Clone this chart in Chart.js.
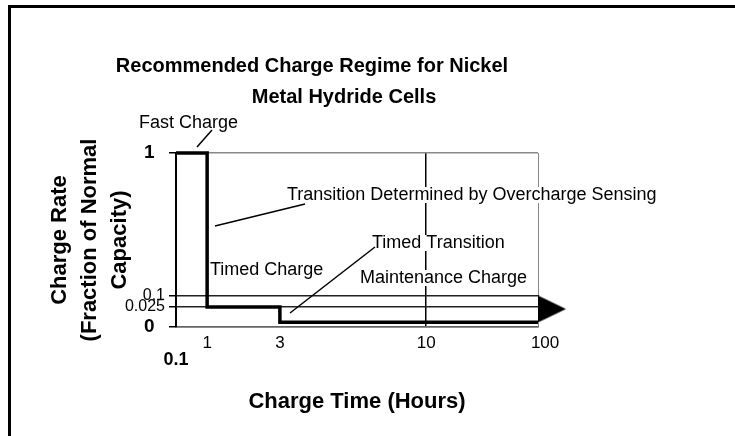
<!DOCTYPE html>
<html lang="en">
<head>
    <meta charset="UTF-8">
    <title>Recommended Charge Regime for Nickel Metal Hydride Cells</title>
    <script src="https://cdn.jsdelivr.net/npm/chart.js"></script>
    <style>
        body {
            margin: 0;
            background: #FFFFFF;
        }

        .chart-box {
            width: 735px;
            height: 436px;
        }
    </style>
</head>
<body>
    <div class="chart-box">
        <canvas id="regimeChart" width="735" height="436"></canvas>
    </div>

    <script>
        // Charge regime (hours, fraction of capacity), stepped
        const stepTimes = [0.1, 1, 3, 100];
        const stepRates = [1, 0.025, 0.006, 0.006];

        // Arrow head at the end of the maintenance charge
        const arrowTime = [100];
        const arrowRate = [0.0225];

        const xTickValues = [0.1, 1, 3, 10, 100];
        const xTickLabels = ['0.1', '1', '3', '10', '100'];
        const yTickValues = [0, 0.025, 0.1, 1];
        const yTickLabels = ['0', '0.025', '0.1', '1'];

        // The original axes are hand drawn, not log: where each tick sits along its axis (0..1)
        const axisSpots = {
            x: { values: xTickValues, spots: [0, 0.086, 0.287, 0.691, 1] },
            y: { values: yTickValues, spots: [0, 0.115, 0.178, 1] }
        };

        const FONT = "'Liberation Sans', Arial, sans-serif";

        class SchematicScale extends Chart.LinearScale {
            determineDataLimits() {
                const v = axisSpots[this.id].values;
                this.min = v[0];
                this.max = v[v.length - 1];
            }

            buildTicks() {
                return axisSpots[this.id].values.map(value => ({ value }));
            }

            getPixelForValue(value) {
                if (value === null || value === undefined) return NaN;
                const { values, spots } = axisSpots[this.id];
                let i = 0;
                while (i < values.length - 2 && value > values[i + 1]) i++;
                const t = (value - values[i]) / (values[i + 1] - values[i]);
                return this.getPixelForDecimal(spots[i] + t * (spots[i + 1] - spots[i]));
            }

            getValueForPixel(pixel) {
                const { values, spots } = axisSpots[this.id];
                const d = this.getDecimalForPixel(pixel);
                let i = 0;
                while (i < spots.length - 2 && d > spots[i + 1]) i++;
                const t = (d - spots[i]) / (spots[i + 1] - spots[i]);
                return values[i] + t * (values[i + 1] - values[i]);
            }
        }
        SchematicScale.id = 'schematic';
        Chart.register(SchematicScale);

        // arrow head: base sits on the data point, tip points right
        function makeArrowHead() {
            const c = document.createElement('canvas');
            c.width = 56;
            c.height = 27;
            const g = c.getContext('2d');
            g.fillStyle = '#000';
            g.beginPath();
            g.moveTo(28, 0);
            g.lineTo(56, 13.5);
            g.lineTo(28, 27);
            g.closePath();
            g.fill();
            return c;
        }

        const notes = [
            { text: 'Fast Charge', x: 139, y: 123 },
            { text: 'Transition Determined by Overcharge Sensing', x: 287, y: 195 },
            { text: 'Timed Transition', x: 372, y: 243 },
            { text: 'Timed Charge', x: 210, y: 270 },
            { text: 'Maintenance Charge', x: 360, y: 278 }
        ];
        const leaders = [
            [197, 147, 212, 130],
            [215, 226, 305, 204],
            [290, 313, 375, 247]
        ];

        const sketchPlugin = {
            id: 'sketch',
            beforeDraw(chart) {
                const ctx = chart.ctx;
                ctx.save();
                ctx.fillStyle = '#FFFFFF';
                ctx.fillRect(0, 0, chart.width, chart.height);
                // page frame (top and left only)
                ctx.fillStyle = '#000';
                ctx.fillRect(8, 5, chart.width - 8, 3);
                ctx.fillRect(8, 5, 3, chart.height - 5);
                ctx.restore();
            },
            afterDatasetsDraw(chart) {
                const ctx = chart.ctx;
                ctx.save();
                ctx.fillStyle = '#000';
                ctx.textAlign = 'center';
                ctx.textBaseline = 'middle';
                ctx.font = 'bold 20px ' + FONT;
                ctx.fillText('Recommended Charge Regime for Nickel', 312, 66);
                ctx.fillText('Metal Hydride Cells', 344, 97);

                ctx.font = '18px ' + FONT;
                ctx.textAlign = 'left';
                notes.forEach(n => {
                    const w = ctx.measureText(n.text).width;
                    ctx.fillStyle = '#FFFFFF';
                    ctx.fillRect(n.x - 1, n.y - 8, w + 2, 16);
                    ctx.fillStyle = '#000';
                    ctx.fillText(n.text, n.x, n.y);
                });

                ctx.strokeStyle = '#000';
                ctx.lineWidth = 1.5;
                leaders.forEach(l => {
                    ctx.beginPath();
                    ctx.moveTo(l[0], l[1]);
                    ctx.lineTo(l[2], l[3]);
                    ctx.stroke();
                });
                ctx.restore();
            }
        };

        const ctx = document.getElementById('regimeChart').getContext('2d');
        new Chart(ctx, {
            type: 'line',
            data: {
                datasets: [
                    {
                        label: 'Charge regime',
                        data: stepTimes.map((t, i) => ({ x: t, y: stepRates[i] })),
                        borderColor: '#000',
                        borderWidth: 3.5,
                        stepped: 'before',
                        pointRadius: 0,
                        fill: false,
                        clip: false
                    },
                    {
                        label: 'Arrow',
                        data: arrowTime.map((t, i) => ({ x: t, y: arrowRate[i] })),
                        showLine: false,
                        pointStyle: makeArrowHead(),
                        pointRadius: 14,
                        clip: false
                    }
                ]
            },
            options: {
                responsive: false,
                animation: false,
                layout: {
                    padding: { left: 0, top: 153, right: 197, bottom: 0 }
                },
                plugins: {
                    legend: { display: false },
                    tooltip: { enabled: false },
                    title: { display: false }
                },
                scales: {
                    x: {
                        type: 'schematic',
                        position: 'bottom',
                        afterFit: scale => { scale.height = 109; },
                        border: { display: true, color: '#666', width: 1.5 },
                        grid: {
                            drawTicks: false,
                            color: c => c.tick.value === 10 ? '#000' : (c.tick.value === 100 ? '#888' : 'rgba(0,0,0,0)'),
                            lineWidth: c => c.tick.value === 10 ? 1.5 : 1
                        },
                        ticks: {
                            autoSkip: false,
                            maxRotation: 0,
                            padding: 6,
                            color: '#000',
                            font: c => c.tick && c.tick.value === 0.1
                                ? { family: FONT, size: 18, weight: 'bold', lineHeight: 1 }
                                : { family: FONT, size: 17, lineHeight: 1.2 },
                            callback: (value, index) => {
                                const label = xTickLabels[index];
                                if (index === 0) return ['', label];
                                if (index === xTickLabels.length - 1) return '   ' + label;
                                return label;
                            }
                        },
                        title: {
                            display: true,
                            text: 'Charge Time (Hours)',
                            color: '#000',
                            font: { family: FONT, size: 22, weight: 'bold', lineHeight: 1.2 },
                            padding: { top: 0, bottom: 21 }
                        }
                    },
                    y: {
                        type: 'schematic',
                        position: 'left',
                        afterFit: scale => { scale.width = 176; },
                        border: { display: true, color: '#000', width: 2 },
                        grid: {
                            drawTicks: true,
                            tickLength: 7,
                            tickColor: '#000',
                            color: c => c.tick.value === 1 ? '#888' : (c.tick.value === 0 ? '#666' : '#222'),
                            lineWidth: 1.5
                        },
                        ticks: {
                            autoSkip: false,
                            padding: 4,
                            color: '#000',
                            font: c => c.tick && (c.tick.value === 0 || c.tick.value === 1)
                                ? { family: FONT, size: 19, weight: 'bold' }
                                : { family: FONT, size: 16 },
                            callback: (value, index) => {
                                const v = yTickValues[index];
                                return (v === 0 || v === 1) ? yTickLabels[index] + '  ' : yTickLabels[index];
                            }
                        },
                        title: {
                            display: true,
                            text: ['Charge Rate', '(Fraction of Normal', 'Capacity)'],
                            color: '#000',
                            font: { family: FONT, size: 22, weight: 'bold', lineHeight: 30 / 22 },
                            padding: { top: 45, bottom: 0 }
                        }
                    }
                }
            },
            plugins: [sketchPlugin]
        });
    </script>
</body>
</html>
